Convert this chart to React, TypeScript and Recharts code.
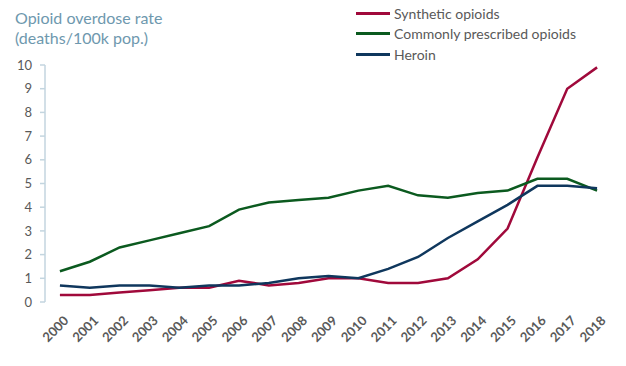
import React from "react";
import { LineChart, Line, XAxis, YAxis, Legend } from "recharts";

const years = [
  "2000", "2001", "2002", "2003", "2004", "2005", "2006", "2007", "2008", "2009",
  "2010", "2011", "2012", "2013", "2014", "2015", "2016", "2017", "2018",
];
const synthetic = [0.3, 0.3, 0.4, 0.5, 0.6, 0.6, 0.9, 0.7, 0.8, 1.0, 1.0, 0.8, 0.8, 1.0, 1.8, 3.1, 6.1, 9.0, 9.9];
const prescribed = [1.3, 1.7, 2.3, 2.6, 2.9, 3.2, 3.9, 4.2, 4.3, 4.4, 4.7, 4.9, 4.5, 4.4, 4.6, 4.7, 5.2, 5.2, 4.7];
const heroin = [0.7, 0.6, 0.7, 0.7, 0.6, 0.7, 0.7, 0.8, 1.0, 1.1, 1.0, 1.4, 1.9, 2.7, 3.4, 4.1, 4.9, 4.9, 4.8];
const yTicks = [0, 1, 2, 3, 4, 5, 6, 7, 8, 9, 10];
const bandEdges = Array.from({ length: years.length + 1 }, (_, i) => i);

const series = [
  { key: "Synthetic opioids", values: synthetic, color: "#a0093b" },
  { key: "Commonly prescribed opioids", values: prescribed, color: "#0b5a1f" },
  { key: "Heroin", values: heroin, color: "#0f375d" },
];

const data = years.map((year, i) => {
  const row: Record<string, number | string> = { year };
  series.forEach((s) => (row[s.key] = s.values[i]));
  return row;
});

const FONT = "Lato, 'Open Sans', sans-serif";
const AXIS = "#c3d5df";
const TEXT = "#595959";

function LegendBox() {
  return (
    <div style={{ fontFamily: FONT, fontSize: 14, color: TEXT, textAlign: "left" }}>
      {series.map((s) => (
        <div key={s.key} style={{ display: "flex", alignItems: "center", height: 20.5 }}>
          <span style={{ display: "inline-block", width: 34, height: 3, background: s.color, marginRight: 4 }} />
          <span>{s.key}</span>
        </div>
      ))}
    </div>
  );
}

export default function App() {
  return (
    <div style={{ position: "absolute", left: 0, top: 0, width: 626, height: 366, background: "#fff" }}>
      <div
        style={{
          position: "absolute",
          left: 15,
          top: 8,
          fontFamily: FONT,
          fontSize: 16,
          lineHeight: "20px",
          color: "#6e98ae",
        }}
      >
        Opioid overdose rate
        <br />
        (deaths/100k pop.)
      </div>
      <LineChart width={626} height={366} data={data} margin={{ top: 65, right: 14, bottom: 0, left: 0 }}>
        <XAxis
          xAxisId="edges"
          type="number"
          dataKey={() => 0}
          domain={[0, years.length]}
          ticks={bandEdges}
          allowDataOverflow
          height={0}
          tick={() => <g />}
          tickSize={5}
          stroke={AXIS}
          strokeWidth={1.5}
        />
        <XAxis
          dataKey="year"
          scale="band"
          interval={0}
          height={64}
          axisLine={false}
          tickLine={false}
          tickSize={0}
          tickMargin={13}
          angle={-45}
          textAnchor="end"
          dx={3}
          tick={{ fill: TEXT, fontSize: 13, fontWeight: 700, fontFamily: FONT }}
        />
        <YAxis
          width={45}
          domain={[0, 10]}
          ticks={yTicks}
          interval={0}
          tickSize={5}
          tickMargin={8}
          stroke={AXIS}
          strokeWidth={1.5}
          tick={{ fill: TEXT, fontSize: 13, fontFamily: FONT }}
        />
        <Legend
          layout="horizontal"
          verticalAlign="middle"
          align="center"
          wrapperStyle={{ top: 3, left: 356, width: 260 }}
          content={() => <LegendBox />}
        />
        {series.map((s) => (
          <Line
            key={s.key}
            dataKey={s.key}
            stroke={s.color}
            strokeWidth={2.5}
            dot={false}
            type="linear"
            isAnimationActive={false}
          />
        ))}
      </LineChart>
    </div>
  );
}
